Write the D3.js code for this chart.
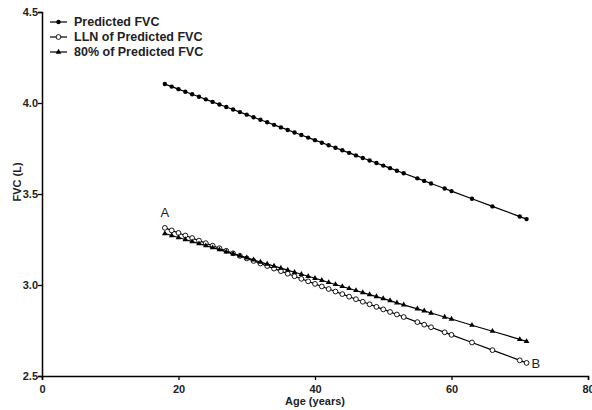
<!DOCTYPE html>
<html>
<head>
<meta charset="utf-8">
<script src="https://cdn.jsdelivr.net/npm/d3@7"></script>
<style>
body { margin: 0; background: #fff; }
svg { display: block; font-family: "Liberation Sans", Arial, sans-serif; }
</style>
</head>
<body>
<svg id="chart" width="592" height="410"></svg>
<script>
const ages = [18,19,20,21,22,23,24,25,26,27,28,29,30,31,32,33,34,35,36,37,38,39,40,41,42,43,44,45,46,47,48,49,50,51,52,53,55,56,57,59,60,63,66,70,71];
const predicted = [4.104,4.090,4.076,4.062,4.048,4.034,4.020,4.006,3.992,3.978,3.964,3.950,3.936,3.922,3.908,3.894,3.880,3.866,3.852,3.838,3.824,3.810,3.796,3.782,3.768,3.754,3.740,3.726,3.712,3.698,3.684,3.670,3.656,3.642,3.628,3.614,3.586,3.572,3.558,3.530,3.516,3.474,3.432,3.376,3.362];
const lln = [3.314,3.300,3.286,3.272,3.258,3.244,3.230,3.216,3.202,3.188,3.174,3.160,3.146,3.132,3.118,3.104,3.090,3.076,3.062,3.048,3.034,3.020,3.006,2.992,2.978,2.964,2.950,2.936,2.922,2.908,2.894,2.880,2.866,2.852,2.838,2.824,2.796,2.782,2.768,2.740,2.726,2.684,2.642,2.586,2.572];
const pct80 = [3.283,3.272,3.261,3.250,3.238,3.227,3.216,3.205,3.194,3.182,3.171,3.160,3.149,3.138,3.126,3.115,3.104,3.093,3.082,3.070,3.059,3.048,3.037,3.026,3.014,3.003,2.992,2.981,2.970,2.958,2.947,2.936,2.925,2.914,2.902,2.891,2.869,2.858,2.846,2.824,2.813,2.779,2.746,2.701,2.690];
const seriesNames = ["Predicted FVC", "LLN of Predicted FVC", "80% of Predicted FVC"];
const xTicks = [0,20,40,60,80];
const yTicks = [2.5,3.0,3.5,4.0,4.5];

const svg = d3.select("#chart");
const x = d3.scaleLinear().domain([0,80]).range([42,588]);
const y = d3.scaleLinear().domain([2.5,4.5]).range([376,12]);

const xAxis = svg.append("g").attr("transform","translate(0,376)")
  .call(d3.axisBottom(x).tickValues(xTicks).tickFormat(d3.format("d")).tickSizeOuter(0).tickSize(4));
const yAxis = svg.append("g").attr("transform","translate(42,0)")
  .call(d3.axisLeft(y).tickValues(yTicks).tickFormat(d3.format(".1f")).tickSizeOuter(0).tickSize(4));
[xAxis,yAxis].forEach(a=>{
  a.select(".domain").attr("stroke","#000").attr("stroke-width",1.5);
  a.selectAll(".tick line").attr("stroke","#000").attr("stroke-width",1.3);
  a.selectAll(".tick text").attr("fill","#222").style("font-size","11px").style("font-weight","bold")
   .style("font-family","'Liberation Sans', Arial, sans-serif");
});
xAxis.selectAll(".tick text").attr("dy","0.9em");
yAxis.selectAll(".tick text").attr("x",-4).attr("dy","0.35em");

svg.append("text").attr("x",315).attr("y",405).attr("text-anchor","middle")
  .style("font-size","11px").style("font-weight","bold").attr("fill","#222").text("Age (years)");
svg.append("text").attr("transform","translate(21,182) rotate(-90)").attr("text-anchor","middle")
  .style("font-size","11px").style("font-weight","bold").attr("fill","#222").text("FVC (L)");

const seriesData = [predicted, lln, pct80];
const line = d3.line().x(d=>x(d[0])).y(d=>y(d[1]));
const tri = d3.symbol().type(d3.symbolTriangle).size(14);

function marker(g, kind, cx, cy){
  if(kind===0){
    g.append("circle").attr("cx",cx).attr("cy",cy).attr("r",2.2).attr("fill","#000");
  } else if(kind===1){
    g.append("circle").attr("cx",cx).attr("cy",cy).attr("r",2.4).attr("fill","#fff").attr("stroke","#000").attr("stroke-width",0.9);
  } else {
    g.append("path").attr("d",tri()).attr("transform",`translate(${cx},${cy})`).attr("fill","#000");
  }
}

seriesData.forEach((vals,k)=>{
  const pts = ages.map((a,i)=>[a,vals[i]]);
  const g = svg.append("g");
  g.append("path").attr("d",line(pts)).attr("fill","none").attr("stroke","#000").attr("stroke-width",1.2);
  pts.forEach(p=>marker(g,k,x(p[0]),y(p[1])));
});

// legend
const lg = svg.append("g");
seriesNames.forEach((name,k)=>{
  const yy = 22 + k*15;
  lg.append("line").attr("x1",50).attr("x2",67).attr("y1",yy).attr("y2",yy).attr("stroke","#000").attr("stroke-width",1.2);
  marker(lg,k,58.5,yy);
  lg.append("text").attr("x",74).attr("y",yy).attr("dy","0.35em").style("font-size","12.5px")
    .style("font-weight","bold").attr("fill","#222").text(name);
});

// annotations
svg.append("text").attr("x",x(ages[0])).attr("y",y(lln[0])-11).attr("text-anchor","middle")
  .style("font-size","13px").attr("fill","#222").text("A");
svg.append("text").attr("x",x(ages[ages.length-1])+5).attr("y",y(lln[lln.length-1])+5)
  .style("font-size","13px").attr("fill","#222").text("B");
</script>
</body>
</html>
